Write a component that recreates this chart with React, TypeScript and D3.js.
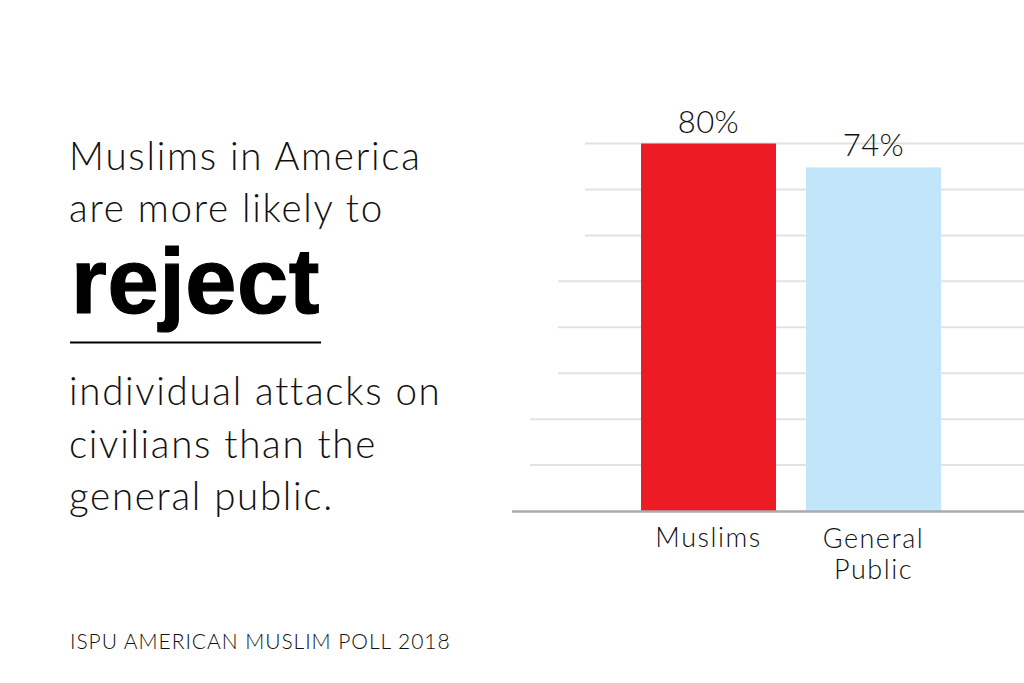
import React from 'react';
import * as d3 from 'd3';

const categories = ['Muslims', 'General Public'];
// bar tops as read against the gridlines (the second bar sits a little above its 74% label)
const barValues = [80, 74.8];
const valueLabels = ['80%', '74%'];
const gridTicks = [10, 20, 30, 40, 50, 60, 70, 80];
const barColors = ['#ed1c24', '#c1e6fa'];
const headLines = ['Muslims in America', 'are more likely to'];
const emphasis = 'reject';
const bodyLines = ['individual attacks on', 'civilians than the', 'general public.'];
const source = 'ISPU AMERICAN MUSLIM POLL 2018';

const width = 1024;
const height = 683;
const lightFont = 'Lato, sans-serif';

const App: React.FC = () => {
  const x = d3.scaleBand<string>()
    .domain(categories)
    .range([641, 941])
    .paddingInner(30 / 165);

  const y = d3.scaleLinear()
    .domain([0, 80])
    .range([511, 143.5]);

  // gridlines step outward toward the bottom of the chart
  const gridStart = (t: number) => (t >= 60 ? 585 : t >= 30 ? 558 : 530);

  return (
    <svg
      width={width}
      height={height}
      style={{ position: 'absolute', left: 0, top: 0, background: '#fff' }}
      fontFamily={lightFont}
      fontWeight={300}
      fill="#111"
    >
      {/* Grid */}
      {gridTicks.map(t => (
        <line key={t} x1={gridStart(t)} x2={width} y1={y(t)} y2={y(t)} stroke="#e1e2e4" strokeWidth={2} />
      ))}

      {/* Bars */}
      {categories.map((c, i) => (
        <rect key={c} x={x(c)} y={y(barValues[i])} width={x.bandwidth()} height={y(0) - y(barValues[i])} fill={barColors[i]} />
      ))}
      <line x1={512} x2={width} y1={y(0) + 0.5} y2={y(0) + 0.5} stroke="#a9abae" strokeWidth={2.5} />

      {/* Value labels */}
      {categories.map((c, i) => (
        <text key={c} x={x(c)! + x.bandwidth() / 2} y={y(barValues[i]) - 11} textAnchor="middle" fontSize={31} letterSpacing={0.4}>
          {valueLabels[i]}
        </text>
      ))}

      {/* Category labels */}
      {categories.map(c => {
        const words = c.split(' ');
        const cx = x(c)! + x.bandwidth() / 2;
        return words.map((w, j) => (
          <text key={w} x={cx} y={(words.length > 1 ? 548 : 547) + j * 31} textAnchor="middle" fontSize={27} letterSpacing={1.5}>
            {w}
          </text>
        ));
      })}

      {/* Headline */}
      {headLines.map((l, i) => (
        <text key={l} x={69} y={170 + i * 52} fontSize={38.5} letterSpacing={1.75}>{l}</text>
      ))}
      <text
        x={71}
        y={313}
        fontFamily="'Liberation Sans', sans-serif"
        fontWeight={700}
        fontSize={92}
        letterSpacing={0.6}
        fill="#000"
        stroke="#000"
        strokeWidth={1.2}
      >
        {emphasis}
      </text>
      <line x1={70} x2={321} y1={342.5} y2={342.5} stroke="#000" strokeWidth={2} />
      {bodyLines.map((l, i) => (
        <text key={l} x={69} y={405 + i * 52.5} fontSize={38.5} letterSpacing={1.7}>{l}</text>
      ))}

      {/* Source */}
      <text x={70} y={649} fontSize={21} letterSpacing={0.95}>{source}</text>
    </svg>
  );
};

export default App;
